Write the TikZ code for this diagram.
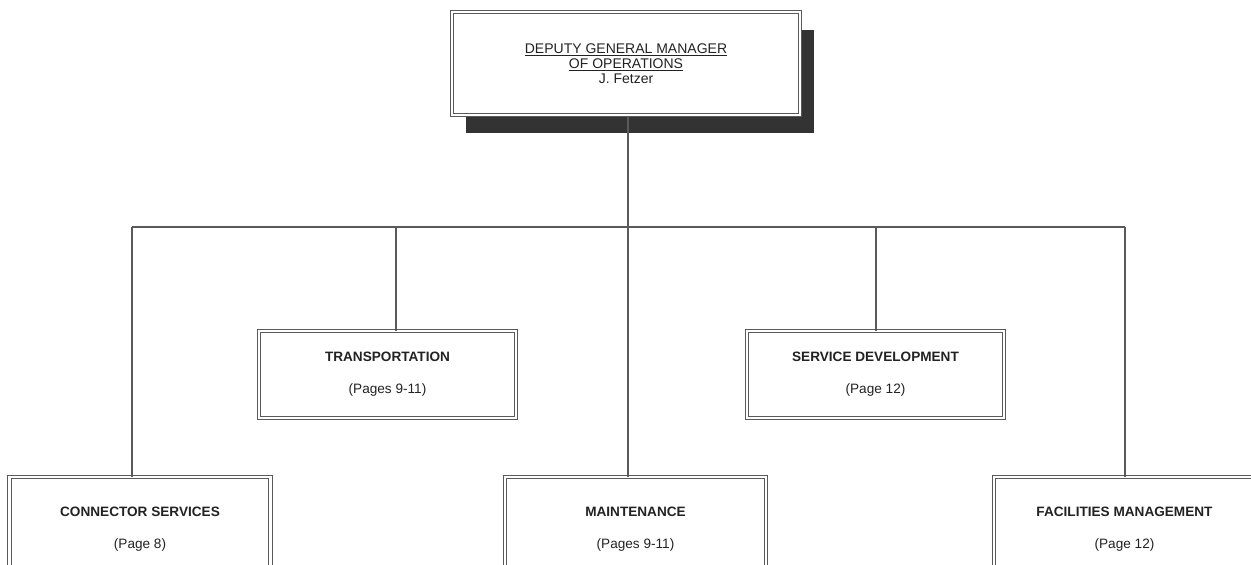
\documentclass[tikz,border=0pt]{standalone}
\usepackage{fontspec}
\setmainfont{Liberation Sans}
\usetikzlibrary{shadows}
\definecolor{linegray}{HTML}{5A5A5A}
\definecolor{inkgray}{HTML}{222222}
\definecolor{shadegray}{HTML}{333333}
\tikzset{
  unit/.style={draw=linegray, double=white, line width=1pt, double distance=2.3pt,
    fill=white, text=inkgray, align=center, font=\fontsize{13.6}{16}\selectfont},
  midunit/.style={unit, minimum width=257pt, minimum height=87pt},
  lowunit/.style={unit, minimum width=261pt, minimum height=104pt},
  headunit/.style={unit, minimum width=348pt, minimum height=103pt,
    font=\fontsize{14}{15}\selectfont,
    drop shadow={shadow xshift=14pt, shadow yshift=-18pt, fill=shadegray, opacity=1}},
  link/.style={draw=linegray, line width=1.2pt}
}

\begin{document}
\begin{tikzpicture}[x=1pt, y=-1pt]
    \useasboundingbox (0,0) rectangle (1251,565);
    \clip (0,0) rectangle (1251,565);
    \node[headunit] (head) at (626,63.5)
      {\underline{DEPUTY GENERAL MANAGER}\\\underline{OF OPERATIONS}\\J. Fetzer};
    \node[midunit] (transp) at (387.5,374.5) {\textbf{TRANSPORTATION}\\[16pt](Pages 9-11)};
    \node[midunit] (svcdev) at (875.5,374.5) {\textbf{SERVICE DEVELOPMENT}\\[16pt](Page 12)};
    \node[lowunit] (connsvc) at (140,529) {\textbf{CONNECTOR SERVICES}\\[16pt](Page 8)};
    \node[lowunit] (maint) at (635.5,529) {\textbf{MAINTENANCE}\\[16pt](Pages 9-11)};
    \node[lowunit] (facmgmt) at (1124.5,529) {\textbf{FACILITIES MANAGEMENT}\\[16pt](Page 12)};
    \coordinate (dropA) at (132,227);
    \coordinate (dropB) at (396,227);
    \coordinate (dropC) at (628,227);
    \coordinate (dropD) at (876,227);
    \coordinate (dropE) at (1125,227);
    \path[link] (dropA) -- (dropE);
    \path[link] (dropC |- head.south) -- (dropC |- maint.north);
    \path[link] (dropA) -- (dropA |- connsvc.north);
    \path[link] (dropB) -- (dropB |- transp.north);
    \path[link] (dropD) -- (dropD |- svcdev.north);
    \path[link] (dropE) -- (dropE |- facmgmt.north);
  \end{tikzpicture}
\end{document}
